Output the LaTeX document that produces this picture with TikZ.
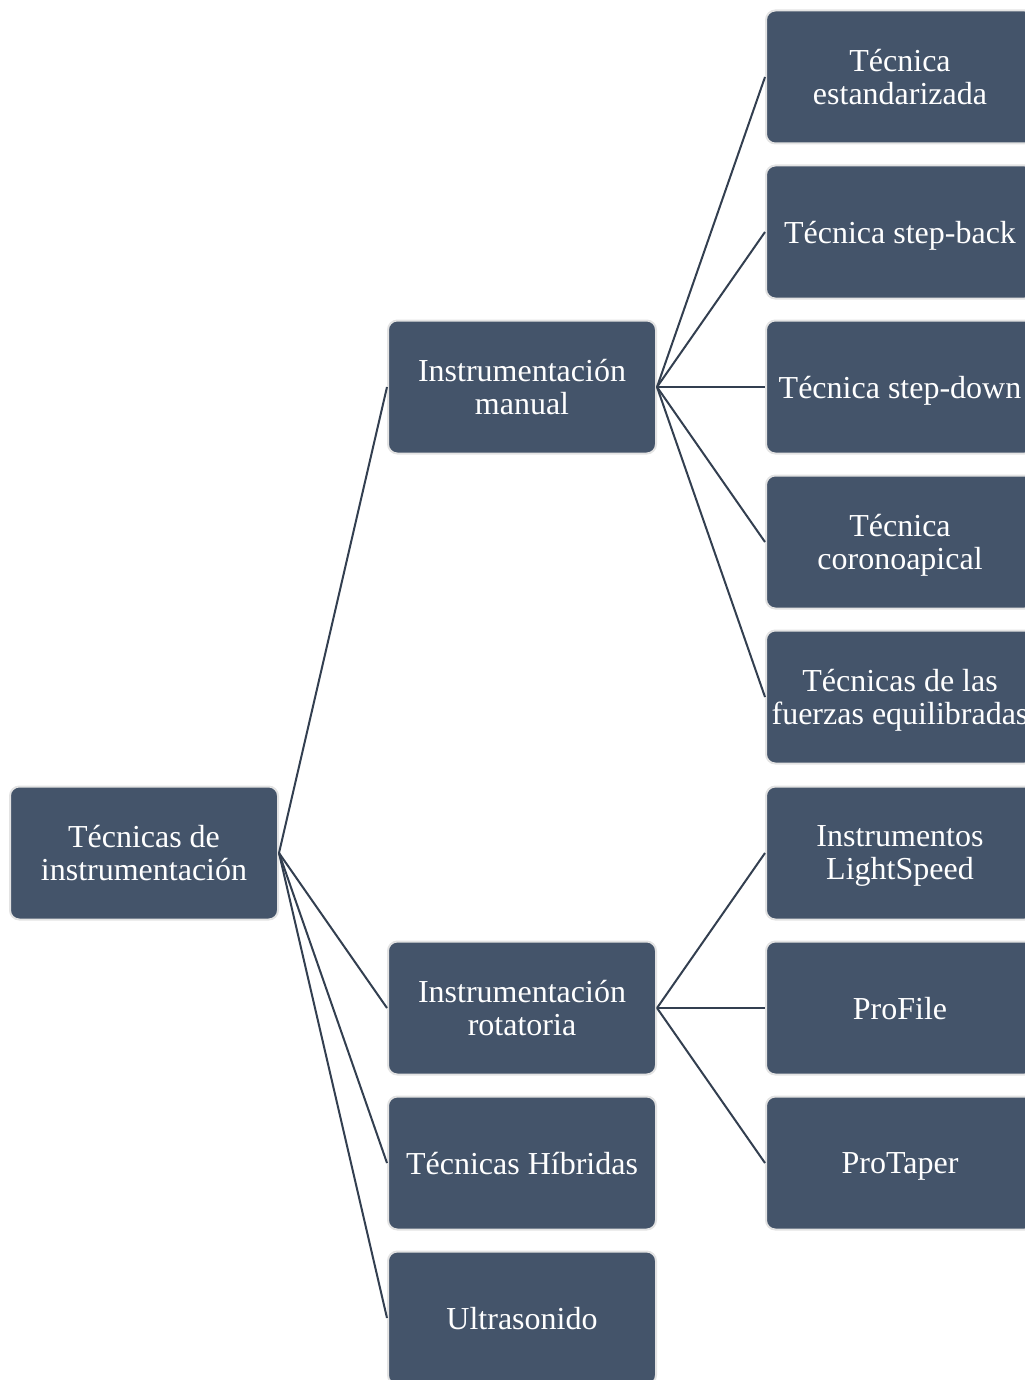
\documentclass[tikz,border=0pt]{standalone}
\usepackage{fontspec}
\setmainfont{Liberation Serif}
\definecolor{boxfill}{HTML}{44546A}
\definecolor{boxedge}{HTML}{E3E3E3}
\definecolor{linkcol}{HTML}{333F50}
\begin{document}
\begin{tikzpicture}[x=0.75pt,y=-0.75pt,
  tbox/.style={rectangle, rounded corners=7pt, fill=boxfill, draw=boxedge, line width=1.5pt,
    minimum width=201pt, minimum height=99.75pt, text=white, align=center,
    font=\fontsize{24}{24.75}\selectfont, inner sep=0pt, text depth=0pt},
  link/.style={draw=linkcol, line width=1.5pt}]
\useasboundingbox (0,0) rectangle (1024,1380);
\node[tbox] (root) at (144,853) {Técnicas de\\instrumentación};
\node[tbox] (man) at (522,387) {Instrumentación\\manual};
\node[tbox] (rot) at (522,1008) {Instrumentación\\rotatoria};
\node[tbox] (hib) at (522,1163) {Técnicas Híbridas};
\node[tbox] (ult) at (522,1318) {Ultrasonido};
\node[tbox] (m1) at (900,77) {Técnica\\estandarizada};
\node[tbox] (m2) at (900,232) {Técnica step-back};
\node[tbox] (m3) at (900,387) {Técnica step-down};
\node[tbox] (m4) at (900,542) {Técnica\\coronoapical};
\node[tbox] (m5) at (900,697) {Técnicas de las\\fuerzas equilibradas};
\node[tbox] (r1) at (900,853) {Instrumentos\\LightSpeed};
\node[tbox] (r2) at (900,1008) {ProFile};
\node[tbox] (r3) at (900,1163) {ProTaper};
\foreach \c in {man,rot,hib,ult} \draw[link] (root.east) -- (\c.west);
\foreach \c in {m1,m2,m3,m4,m5} \draw[link] (man.east) -- (\c.west);
\foreach \c in {r1,r2,r3} \draw[link] (rot.east) -- (\c.west);
\end{tikzpicture}
\end{document}
